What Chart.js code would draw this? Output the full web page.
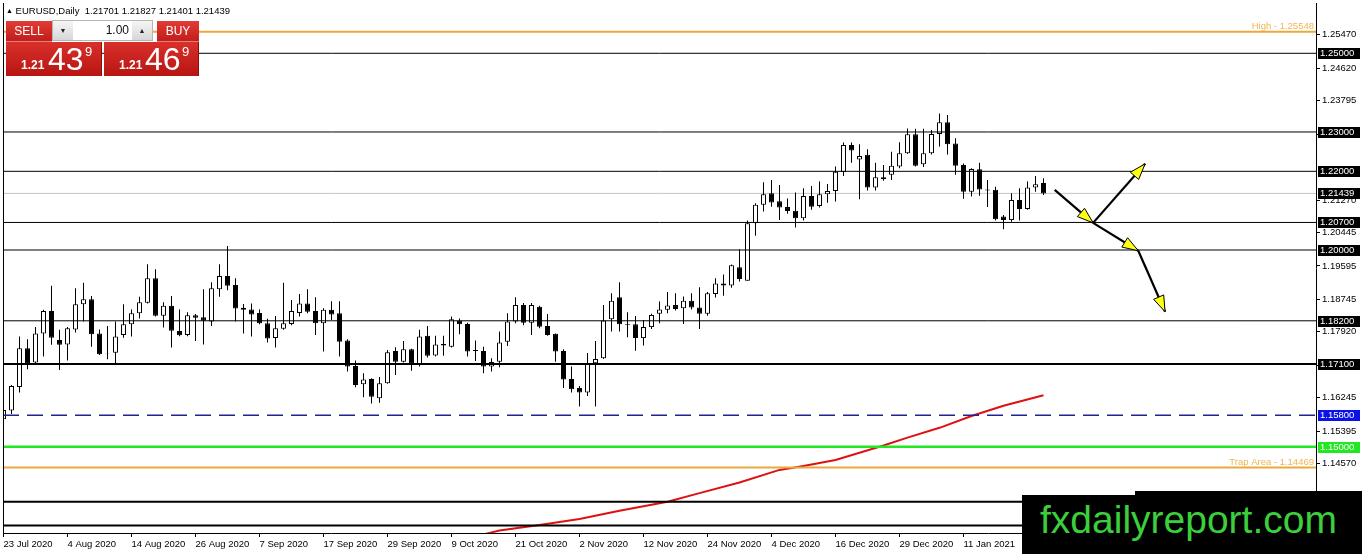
<!DOCTYPE html>
<html>
<head>
<meta charset="utf-8">
<title>EURUSD Daily</title>
<script src="https://cdn.jsdelivr.net/npm/chart.js@4.4.1/dist/chart.umd.min.js"></script>
<style>
  html, body { margin: 0; padding: 0; background: #fff; overflow: hidden; }
  #wrap { position: relative; width: 1362px; height: 554px; font-family: "Liberation Sans", Arial, sans-serif; }
  #c { position: absolute; left: 0; top: 0; }
  #hdr { position: absolute; left: 6px; top: 6px; font-size: 9.5px; line-height: 1; color: #000; white-space: pre; }
  #hdr b { font-weight: normal; font-size: 7px; position: relative; top: -1px; }
  .red { position: absolute; color: #fff; background: linear-gradient(#e03b35, #c11c19); }
  .lbl { top: 21px; height: 21px; font-size: 12px; line-height: 20px; text-align: center; box-shadow: inset 0 -1px 0 rgba(255,255,255,0.45); }
  #spin { position: absolute; left: 52px; top: 20px; width: 101px; height: 21px; background: #fff; border: 1px solid #b5b5b5; box-sizing: border-box; }
  .sb { position: absolute; top: 0; width: 20px; height: 19px; background: linear-gradient(#f6f6f6, #d6d6d6); font-size: 7px; line-height: 19px; text-align: center; color: #222; }
  .sv { position: absolute; left: 20px; right: 20px; top: 0; height: 19px; line-height: 19px; text-align: right; font-size: 12px; padding-right: 3px; color: #111; }
  .pbox { top: 42px; height: 34px; background: linear-gradient(#d9302b, #b71512); border-right: 1px solid #8f0d0b; box-sizing: border-box; }
  .pbox span { position: absolute; line-height: 1; white-space: nowrap; }
  .pbox .s { font-size: 12px; font-weight: bold; top: 17px; }
  .pbox .b { font-size: 32px; top: 1px; }
  .pbox .u { font-size: 13px; top: 3px; }
  #wm1 { position: absolute; left: 1022px; top: 495px; width: 340px; height: 59px; background: #000; }
  #wm2 { position: absolute; left: 1135px; top: 491px; width: 227px; height: 6px; background: #000; }
  #wm1 span { position: absolute; left: 18px; top: 5px; font-size: 39px; line-height: 1; color: #3ccf3c; white-space: nowrap; }
</style>
</head>
<body>
<div id="wrap">
  <canvas id="c" width="1362" height="554"></canvas>
  <div id="hdr"><b>&#9650;</b> EURUSD,Daily  1.21701 1.21827 1.21401 1.21439</div>
  <div class="red lbl" style="left:6px;width:46px;">SELL</div>
  <div id="spin">
    <div class="sb" style="left:0;">&#9660;</div>
    <div class="sv">1.00</div>
    <div class="sb" style="right:0;">&#9650;</div>
  </div>
  <div class="red lbl" style="left:157px;width:42px;">BUY</div>
  <div class="red pbox" style="left:6px;width:96px;">
    <span class="s" style="left:15px;">1.21</span><span class="b" style="left:42px;">43</span><span class="u" style="left:79px;">9</span>
  </div>
  <div class="red pbox" style="left:104px;width:95px;">
    <span class="s" style="left:15px;">1.21</span><span class="b" style="left:41px;">46</span><span class="u" style="left:78px;">9</span>
  </div>
  <div id="wm2"></div>
  <div id="wm1"><span>fxdailyreport.com</span></div>
</div>
<script>
// daily candles, 23 Jul 2020 .. 25 Jan 2021 (bar index 0..130)
const opens = [
  1.1570,1.1592,1.1652,1.1750,1.1714,1.1788,1.1845,1.1771,1.1760,1.1798,
  1.1862,1.1875,1.1788,1.1737,1.1739,1.1784,1.1811,1.1839,1.1866,1.1928,
  1.1833,1.1858,1.1794,1.1784,1.1834,1.1829,1.1818,1.1900,1.1934,1.1911,
  1.1853,1.1849,1.1840,1.1814,1.1776,1.1800,1.1812,1.1840,1.1864,1.1845,
  1.1814,1.1848,1.1839,1.1770,1.1705,1.1659,1.1672,1.1623,1.1661,1.1743,
  1.1716,1.1748,1.1710,1.1782,1.1732,1.1761,1.1754,1.1820,1.1812,1.1746,
  1.1743,1.1704,1.1716,1.1767,1.1818,1.1860,1.1815,1.1856,1.1807,1.1787,
  1.1743,1.1672,1.1649,1.1638,1.1712,1.1725,1.1824,1.1880,1.1812,1.1811,
  1.1776,1.1804,1.1838,1.1848,1.1860,1.1852,1.1871,1.1854,1.1838,1.1888,
  1.1915,1.1910,1.1956,1.1922,1.2068,1.2115,1.2144,1.2124,1.2109,1.2100,
  1.2081,1.2137,1.2112,1.2142,1.2150,1.2198,1.2267,1.2230,1.2242,1.2159,
  1.2185,1.2191,1.2212,1.2246,1.2294,1.2218,1.2246,1.2295,1.2325,1.2271,
  1.2216,1.2148,1.2205,1.2154,1.2153,1.2085,1.2076,1.2127,1.2104,1.2159,
  1.21701
];
const highs = [
  1.1627,1.1657,1.1780,1.1773,1.1804,1.1848,1.1909,1.1797,1.1804,1.1903,
  1.1917,1.1883,1.1798,1.1807,1.1818,1.1862,1.1849,1.1881,1.1964,1.1951,
  1.1867,1.1883,1.1849,1.1842,1.1837,1.1900,1.1918,1.1964,1.2010,1.1928,
  1.1863,1.1864,1.1849,1.1825,1.1832,1.1917,1.1873,1.1888,1.1900,1.1880,
  1.1852,1.1870,1.1870,1.1773,1.1719,1.1687,1.1674,1.1677,1.1746,1.1753,
  1.1769,1.1749,1.1797,1.1807,1.1782,1.1782,1.1831,1.1826,1.1815,1.1770,
  1.1754,1.1725,1.1793,1.1839,1.1880,1.1865,1.1865,1.1858,1.1837,1.1788,
  1.1748,1.1704,1.1654,1.1738,1.1769,1.1860,1.1890,1.1918,1.1842,1.1832,
  1.1822,1.1838,1.1869,1.1893,1.1890,1.1882,1.1890,1.1905,1.1893,1.1928,
  1.1938,1.1963,1.2002,1.2075,1.2119,1.2172,1.2178,1.2165,1.2131,1.2146,
  1.2157,1.2163,1.2174,1.2168,1.2212,1.2273,1.2273,1.2269,1.2256,1.2222,
  1.2216,1.2250,1.2274,1.2309,1.2308,1.2308,1.2305,1.2347,1.2343,1.2284,
  1.2220,1.2208,1.2222,1.2178,1.2161,1.2089,1.2144,1.2157,1.2174,1.2188,
  1.21827
];
const lows = [
  1.1538,1.1583,1.1638,1.1697,1.1712,1.1729,1.1759,1.1695,1.1719,1.1790,
  1.1818,1.1754,1.1733,1.1722,1.1712,1.1777,1.1780,1.1826,1.1864,1.1831,
  1.1803,1.1752,1.1781,1.1781,1.1769,1.1760,1.1807,1.1881,1.1898,1.1818,
  1.1788,1.1780,1.1811,1.1765,1.1752,1.1797,1.1809,1.1831,1.1839,1.1784,
  1.1742,1.1822,1.1729,1.1691,1.1651,1.1626,1.1610,1.1612,1.1660,1.1682,
  1.1714,1.1693,1.1704,1.1727,1.1729,1.1731,1.1752,1.1786,1.1729,1.1718,
  1.1687,1.1691,1.1702,1.1756,1.1814,1.1809,1.1784,1.1801,1.1782,1.1716,
  1.1649,1.1638,1.1602,1.1629,1.1602,1.1723,1.1793,1.1793,1.1778,1.1744,
  1.1757,1.1799,1.1814,1.1839,1.1846,1.1812,1.1849,1.1799,1.1833,1.1879,
  1.1884,1.1904,1.1920,1.1922,1.2036,1.2098,1.2110,1.2076,1.2092,1.2057,
  1.2075,1.2102,1.2108,1.2120,1.2123,1.2188,1.2222,1.2129,1.2151,1.2151,
  1.2176,1.2178,1.2208,1.2244,1.2212,1.2211,1.2243,1.2263,1.2243,1.2191,
  1.2130,1.2136,1.2138,1.2109,1.2075,1.2053,1.2072,1.2075,1.2102,1.2148,
  1.21401
];
const closes = [
  1.1593,1.1654,1.1750,1.1712,1.1788,1.1845,1.1777,1.1759,1.1801,1.1862,
  1.1875,1.1786,1.1735,1.1736,1.1780,1.1811,1.1839,1.1867,1.1928,1.1833,
  1.1858,1.1795,1.1783,1.1834,1.1828,1.1820,1.1903,1.1934,1.1909,1.1851,
  1.1848,1.1836,1.1814,1.1775,1.1801,1.1814,1.1845,1.1864,1.1843,1.1814,
  1.1848,1.1836,1.1767,1.1704,1.1657,1.1671,1.1627,1.1661,1.1740,1.1716,
  1.1748,1.1712,1.1780,1.1731,1.1760,1.1757,1.1824,1.1811,1.1742,1.1743,
  1.1704,1.1715,1.1765,1.1818,1.1860,1.1815,1.1860,1.1805,1.1784,1.1742,
  1.1671,1.1646,1.1638,1.1710,1.1723,1.1821,1.1871,1.1811,1.1810,1.1776,
  1.1804,1.1835,1.1849,1.1859,1.1850,1.1871,1.1854,1.1838,1.1890,1.1915,
  1.1910,1.1961,1.1926,1.2068,1.2115,1.2142,1.2121,1.2108,1.2099,1.2081,
  1.2137,1.2110,1.2142,1.2150,1.2199,1.2267,1.2253,1.2239,1.2159,1.2185,
  1.2180,1.2214,1.2246,1.2294,1.2214,1.2246,1.2295,1.2325,1.2269,1.2214,
  1.2148,1.2206,1.2154,1.2151,1.2078,1.2076,1.2127,1.2104,1.2159,1.2167,
  1.21439
];

// moving average, read at a few bars
const maBars = [60, 62, 67, 72, 77, 83, 87, 92, 97, 100, 104, 110, 113, 117, 121, 125, 130];
const maValues = [1.1277, 1.1287, 1.1301, 1.1316, 1.1337, 1.1360, 1.1382, 1.1409, 1.1441, 1.1451, 1.1466, 1.1503, 1.1523, 1.1548, 1.1578, 1.1604, 1.1631];

const tickBars = [0, 8, 16, 24, 32, 40, 48, 56, 64, 72, 80, 88, 96, 104, 112, 120];
const tickLabels = ['23 Jul 2020', '4 Aug 2020', '14 Aug 2020', '26 Aug 2020', '7 Sep 2020', '17 Sep 2020',
  '29 Sep 2020', '9 Oct 2020', '21 Oct 2020', '2 Nov 2020', '12 Nov 2020', '24 Nov 2020',
  '4 Dec 2020', '16 Dec 2020', '29 Dec 2020', '11 Jan 2021'];
const priceTicks = [1.25470, 1.24620, 1.23795, 1.22945, 1.21270, 1.20445, 1.19595, 1.18745, 1.17920, 1.17070, 1.16245, 1.15395, 1.14570];

// horizontal levels
const levelPrices = [1.25548, 1.25, 1.23, 1.22, 1.207, 1.20, 1.182, 1.171, 1.158, 1.15, 1.14469, 1.136, 1.130];
const bidPrice = 1.21439;
const boxedPrices = [1.25, 1.23, 1.22, 1.21439, 1.207, 1.20, 1.182, 1.171, 1.158, 1.15];
const captions = ['High - 1.25548', 'Trap Area - 1.14469'];
const captionPrices = [1.25548, 1.14469];

// hand-drawn arrows: [fromBar, fromPrice, toBar, toPrice]
const arrows = [
  [131.4, 1.2153, 136.2, 1.2069],
  [136.2, 1.2069, 142.7, 1.2219],
  [136.2, 1.2069, 141.85, 1.1998],
  [141.85, 1.1998, 145.2, 1.1843]
];

const xMin = -0.0625, xMax = 164.0625;
const yMin = 1.128063, yMax = 1.262786;
const FONT = '"Liberation Sans", Arial, sans-serif';

function levelStyle(v) {
  if (v === 1.25548 || v === 1.14469) return { color: '#eaa93c', width: 2 };
  if (v === 1.158) return { color: '#1f2590', width: 1.5, dash: [16, 8] };
  if (v === 1.15) return { color: '#22e822', width: 2.5 };
  if (v === 1.171 || v === 1.136 || v === 1.130) return { color: '#000', width: 2 };
  return { color: '#000', width: 1 };
}
function boxColor(v) {
  if (v === 1.158) return '#0b12e8';
  if (v === 1.15) return '#22e822';
  return '#000';
}

const levelSets = levelPrices.map(v => {
  const st = levelStyle(v);
  return {
    type: 'line',
    data: [{ x: xMin, y: v }, { x: xMax, y: v }],
    borderColor: st.color,
    borderWidth: st.width,
    borderDash: st.dash || [],
    pointRadius: 0,
    fill: false
  };
});

const maSet = {
  type: 'line',
  data: maBars.map((b, k) => ({ x: b, y: maValues[k] })),
  borderColor: '#dd1111',
  borderWidth: 2,
  pointRadius: 0,
  tension: 0,
  fill: false
};

const bodySet = {
  type: 'bar',
  data: opens.map((o, i) => ({ x: i, y: [o, closes[i]] })),
  backgroundColor: opens.map((o, i) => closes[i] >= o ? '#ffffff' : '#000000'),
  borderColor: '#000',
  borderWidth: 1,
  borderSkipped: false,
  barThickness: 5,
  grouped: false,
  inflateAmount: 0
};

const wickSet = {
  type: 'bar',
  data: opens.map((o, i) => ({ x: i, y: [lows[i], highs[i]] })),
  backgroundColor: '#000',
  borderWidth: 0,
  barThickness: 1,
  grouped: false,
  inflateAmount: 0
};

const bidSet = {
  type: 'line',
  data: [{ x: xMin, y: bidPrice }, { x: xMax, y: bidPrice }],
  borderColor: '#c4c4c4',
  borderWidth: 1,
  pointRadius: 0,
  fill: false
};

function drawArrow(ctx, x0, y0, x1, y1) {
  ctx.beginPath();
  ctx.moveTo(x0, y0);
  ctx.lineTo(x1, y1);
  ctx.lineWidth = 2.2;
  ctx.strokeStyle = '#000';
  ctx.stroke();
  const a = Math.atan2(y1 - y0, x1 - x0);
  const L = 16, W = 5.5;
  const bx = x1 - L * Math.cos(a), by = y1 - L * Math.sin(a);
  ctx.beginPath();
  ctx.moveTo(x1, y1);
  ctx.lineTo(bx + W * Math.sin(a), by - W * Math.cos(a));
  ctx.lineTo(bx - W * Math.sin(a), by + W * Math.cos(a));
  ctx.closePath();
  ctx.fillStyle = '#ffff14';
  ctx.fill();
  ctx.lineWidth = 1;
  ctx.stroke();
}

const overlay = {
  id: 'overlay',
  afterDatasetsDraw(chart) {
    const { ctx, chartArea: a, scales: { x, y } } = chart;
    ctx.save();
    // left frame
    ctx.beginPath();
    ctx.moveTo(a.left + 0.5, a.top);
    ctx.lineTo(a.left + 0.5, a.bottom);
    ctx.strokeStyle = '#000';
    ctx.lineWidth = 1;
    ctx.stroke();
    // captions on lines
    ctx.font = '9.5px ' + FONT;
    ctx.fillStyle = '#f0b450';
    ctx.textAlign = 'right';
    ctx.textBaseline = 'alphabetic';
    captions.forEach((t, k) => ctx.fillText(t, a.right - 2, y.getPixelForValue(captionPrices[k]) - 3));
    // arrows
    arrows.forEach(r => drawArrow(ctx, x.getPixelForValue(r[0]), y.getPixelForValue(r[1]),
      x.getPixelForValue(r[2]), y.getPixelForValue(r[3])));
    ctx.restore();
  },
  afterDraw(chart) {
    const { ctx, chartArea: a, scales: { y } } = chart;
    ctx.save();
    ctx.font = '9.5px ' + FONT;
    ctx.textAlign = 'left';
    ctx.textBaseline = 'middle';
    boxedPrices.forEach(v => {
      const py = Math.round(y.getPixelForValue(v));
      ctx.fillStyle = boxColor(v);
      ctx.fillRect(a.right + 2, py - 5, 42, 11);
      ctx.fillStyle = '#fff';
      ctx.fillText(v.toFixed(5), a.right + 4, py + 0.5);
    });
    ctx.restore();
  }
};

Chart.defaults.font.family = FONT;

new Chart(document.getElementById('c'), {
  type: 'bar',
  data: { datasets: [...levelSets, maSet, bodySet, wickSet, bidSet] },
  options: {
    responsive: false,
    animation: false,
    devicePixelRatio: 1,
    events: [],
    layout: { padding: { left: 3, top: 3, right: 0, bottom: 0 } },
    plugins: { legend: { display: false }, tooltip: { enabled: false } },
    scales: {
      x: {
        type: 'linear',
        min: xMin,
        max: xMax,
        offset: false,
        grid: { drawOnChartArea: false, drawTicks: true, tickLength: 4, color: '#000', offset: false },
        border: { display: true, color: '#000', width: 1 },
        ticks: {
          autoSkip: false, maxRotation: 0, align: 'start', padding: 2, color: '#000',
          font: { size: 9.5 },
          callback: (v, i) => tickLabels[i]
        },
        afterBuildTicks: s => { s.ticks = tickBars.map(b => ({ value: b })); },
        afterFit: s => { s.height = 21; s.paddingLeft = 0; s.paddingRight = 0; }
      },
      y: {
        position: 'right',
        min: yMin,
        max: yMax,
        grid: { drawOnChartArea: false, drawTicks: true, tickLength: 4, color: '#000' },
        border: { display: true, color: '#000', width: 1 },
        ticks: {
          autoSkip: false, padding: 2, color: '#000',
          font: { size: 9.5 },
          callback: v => v.toFixed(5)
        },
        afterBuildTicks: s => { s.ticks = priceTicks.map(v => ({ value: v })); },
        afterFit: s => { s.width = 46; s.paddingTop = 0; s.paddingBottom = 0; }
      }
    }
  },
  plugins: [overlay]
});
</script>
</body>
</html>
